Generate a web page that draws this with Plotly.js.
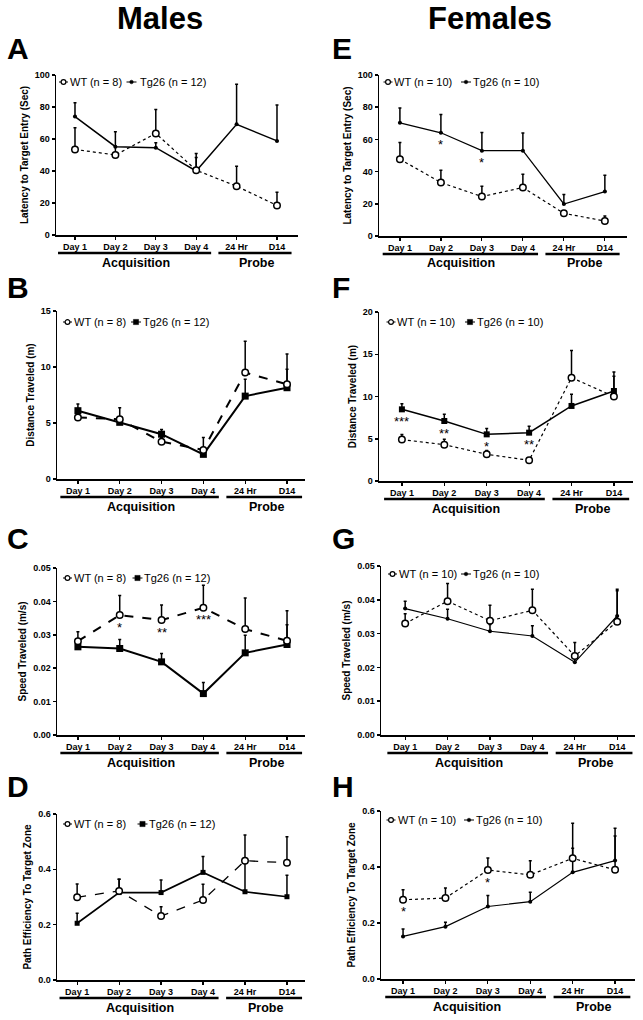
<!DOCTYPE html>
<html><head><meta charset="utf-8">
<script src="https://cdn.plot.ly/plotly-3.0.1.min.js"></script>
<style>html,body{margin:0;padding:0;background:#fff}#chart{width:643px;height:1020px}</style>
</head><body><div id="chart"></div>
<script>
// ---------- data ----------
const days = ['Day 1','Day 2','Day 3','Day 4','24 Hr','D14'];
const groupLabels = ['Acquisition','Probe'];
const colHeaders = ['Males','Females'];
const panelLetters = ['A','B','C','D','E','F','G','H'];
const yTitles = ['Latency to Target Entry (Sec)','Distance Traveled (m)','Speed Traveled (m/s)','Path Efficiency To Target Zone'];
const nMales = {wt: 8, tg: 12};
const nFemales = {wt: 10, tg: 10};

// A: males latency
const latMaleWT = [53.5, 50.0, 63.5, 40.5, 30.5, 18.5];
const latMaleWTErr = [13.5, 5.0, 15.0, 8.0, 12.5, 8.2];
const latMaleTg = [74.0, 55.2, 54.6, 40.0, 69.2, 58.8];
const latMaleTgErr = [8.7, 9.4, 3.0, 11.0, 25.0, 22.5];
// B: males distance
const distMaleWT = [5.5, 5.33, 3.33, 2.6, 9.5, 8.45];
const distMaleWTErr = [0.4, 1.04, 0.4, 1.1, 2.8, 2.7];
const distMaleTg = [6.1, 5.06, 4.0, 2.2, 7.4, 8.15];
const distMaleTgErr = [0.6, 0.4, 0.43, 0.3, 1.5, 1.65];
// C: males speed
const speedMaleWT = [0.0281, 0.0359, 0.0344, 0.0381, 0.0317, 0.0282];
const speedMaleWTErr = [0.0028, 0.0059, 0.0045, 0.0067, 0.0093, 0.0090];
const speedMaleTg = [0.0264, 0.0259, 0.0219, 0.0124, 0.0246, 0.0271];
const speedMaleTgErr = [0.0010, 0.0027, 0.0025, 0.0033, 0.0053, 0.0059];
const speedMaleStars = ['', '*', '**', '***', '', ''];
// D: males path efficiency
const pathMaleWT = [0.299, 0.322, 0.231, 0.289, 0.431, 0.424];
const pathMaleWTErr = [0.048, 0.042, 0.034, 0.057, 0.093, 0.094];
const pathMaleTg = [0.205, 0.316, 0.316, 0.389, 0.319, 0.301];
const pathMaleTgErr = [0.036, 0.048, 0.045, 0.057, 0.110, 0.078];
// E: females latency
const latFemWT = [47.7, 33.2, 24.5, 30.1, 14.1, 9.3];
const latFemWTErr = [10.4, 7.7, 6.4, 8.3, 1.5, 3.1];
const latFemTg = [70.3, 64.1, 53.0, 53.0, 19.9, 27.6];
const latFemTgErr = [9.2, 11.4, 11.3, 11.0, 5.8, 10.2];
const latFemStars = ['', '*', '*', '', '', ''];
// F: females distance
const distFemWT = [4.9, 4.3, 3.16, 2.45, 12.23, 10.0];
const distFemWTErr = [0.6, 0.63, 0.44, 0.2, 3.2, 2.4];
const distFemTg = [8.48, 7.1, 5.52, 5.72, 8.88, 10.65];
const distFemTgErr = [0.67, 0.8, 0.68, 0.75, 1.38, 2.25];
const distFemStars = ['***', '**', '*', '**', '', ''];
// G: females speed
const speedFemWT = [0.0330, 0.0396, 0.0338, 0.0369, 0.0234, 0.0335];
const speedFemWTErr = [0.0029, 0.0052, 0.0046, 0.0062, 0.0040, 0.0096];
const speedFemTg = [0.0374, 0.0344, 0.0307, 0.0293, 0.0215, 0.0352];
const speedFemTgErr = [0.0022, 0.0028, 0.0020, 0.0030, 0.0015, 0.0075];
// H: females path efficiency
const pathFemWT = [0.283, 0.289, 0.389, 0.372, 0.431, 0.390];
const pathFemWTErr = [0.036, 0.036, 0.043, 0.050, 0.125, 0.121];
const pathFemTg = [0.152, 0.187, 0.259, 0.276, 0.381, 0.423];
const pathFemTgErr = [0.027, 0.016, 0.039, 0.034, 0.086, 0.115];
const pathFemStars = ['*', '', '*', '', '', ''];

// ---------- panel config (styles / layout) ----------
const W = 643, H = 1020;
const px = v => v / W;
const py = v => 1 - v / H;
const FONT = 'Arial, "Liberation Sans", sans-serif';

const panels = [
  {wt:latMaleWT, wtE:latMaleWTErr, tg:latMaleTg, tgE:latMaleTgErr, n:nMales, row:0, yr:[0,100], dt:20, fmt:'d',
   gx:[56,298], gy:[75,235], xr:[-0.47,5.52], leg:[63.5,70,131.5,140,82], style:'thinA'},
  {wt:distMaleWT, wtE:distMaleWTErr, tg:distMaleTg, tgE:distMaleTgErr, n:nMales, row:1, yr:[0,15], dt:5, fmt:'d',
   gx:[57,305], gy:[311,479], xr:[-0.50,5.43], leg:[67.5,74,136,143,322], style:'thick'},
  {wt:speedMaleWT, wtE:speedMaleWTErr, tg:speedMaleTg, tgE:speedMaleTgErr, n:nMales, row:2, yr:[0,0.05], dt:0.01, fmt:'.2f',
   gx:[57,305], gy:[568,735], xr:[-0.50,5.43], leg:[67.5,74,137.5,144,578], style:'thick', stars:speedMaleStars, starOn:'wt'},
  {wt:pathMaleWT, wtE:pathMaleWTErr, tg:pathMaleTg, tgE:pathMaleTgErr, n:nMales, row:3, yr:[0,0.6], dt:0.2, fmt:'.1f',
   gx:[57,305], gy:[814,980], xr:[-0.48,5.43], leg:[67.5,74,142.5,149,824], style:'mid'},
  {wt:latFemWT, wtE:latFemWTErr, tg:latFemTg, tgE:latFemTgErr, n:nFemales, row:0, yr:[0,100], dt:20, fmt:'d',
   gx:[379,627], gy:[75,236], xr:[-0.51,5.54], leg:[388,394,466,473,82], style:'thin', stars:latFemStars, starOn:'tg'},
  {wt:distFemWT, wtE:distFemWTErr, tg:distFemTg, tgE:distFemTgErr, n:nFemales, row:1, yr:[0,20], dt:5, fmt:'d',
   gx:[379,633], gy:[312,481], xr:[-0.54,5.45], leg:[391,397,470,477,322], style:'thinSq', stars:distFemStars, starOn:'tg'},
  {wt:speedFemWT, wtE:speedFemWTErr, tg:speedFemTg, tgE:speedFemTgErr, n:nFemales, row:2, yr:[0,0.05], dt:0.01, fmt:'.2f',
   gx:[381,635], gy:[566,735], xr:[-0.57,5.42], leg:[392.5,399,466,473,574], style:'thin'},
  {wt:pathFemWT, wtE:pathFemWTErr, tg:pathFemTg, tgE:pathFemTgErr, n:nFemales, row:3, yr:[0,0.6], dt:0.2, fmt:'.1f',
   gx:[381,635], gy:[811,979], xr:[-0.52,5.47], leg:[391,398,469,476,820], style:'thin', stars:pathFemStars, starOn:'wt'}
];
const styles = {
  thinA:  {wtDash:'dot',  wtW:1.2, tgW:1.5, tgSym:'circle', tgSize:4},
  thick:  {wtDash:'dash', wtW:2,   tgW:2,   tgSym:'square', tgSize:7},
  mid:    {wtDash:'dash', wtW:1.3, tgW:1.7, tgSym:'square', tgSize:5},
  thin:   {wtDash:'dot',  wtW:1.2, tgW:1.2, tgSym:'circle', tgSize:4},
  thinSq: {wtDash:'dot',  wtW:1.2, tgW:1.5, tgSym:'square', tgSize:6}
};
const letterY = [47, 286, 537, 785];

const traces = [];
const shapes = [];
const annotations = [];
const layout = {
  width: W, height: H, margin: {l:0, r:0, t:0, b:0},
  paper_bgcolor: '#fff', plot_bgcolor: '#fff', showlegend: false,
  font: {family: FONT, color: '#000'},
  shapes, annotations
};

colHeaders.forEach((h, i) => {
  annotations.push({text: h, xref:'paper', yref:'paper', x: px(i === 0 ? 160 : 490), y: py(18),
    xanchor:'center', yanchor:'middle', showarrow:false, font:{size:31, weight:700, family: FONT}});
});

panels.forEach((p, i) => {
  const k = i + 1;
  const xa = 'x' + (k === 1 ? '' : k), ya = 'y' + (k === 1 ? '' : k);
  const xk = 'xaxis' + (k === 1 ? '' : k), yk = 'yaxis' + (k === 1 ? '' : k);
  const st = styles[p.style];
  const zeros = days.map(() => 0);

  traces.push({
    x: days, y: p.tg, xaxis: xa, yaxis: ya, type: 'scatter', mode: 'lines+markers', cliponaxis: false,
    line: {color:'#000', width: st.tgW},
    marker: {symbol: st.tgSym, size: st.tgSize, color: '#000'},
    error_y: {type:'data', symmetric:false, array: p.tgE, arrayminus: zeros, color:'#000', thickness:1.5, width:1.5}
  });
  traces.push({
    x: days, y: p.wt, xaxis: xa, yaxis: ya, type: 'scatter', mode: 'lines+markers', cliponaxis: false,
    line: {color:'#000', width: st.wtW, dash: st.wtDash},
    marker: {symbol: 'circle', size: 6.5, color: '#fff', line: {color:'#000', width: 1.5}},
    error_y: {type:'data', symmetric:false, array: p.wtE, arrayminus: zeros, color:'#000', thickness:1.5, width:1.5}
  });

  layout[xk] = {
    domain: [px(p.gx[0]), px(p.gx[1])], anchor: ya, type: 'category', range: p.xr,
    showline: true, linecolor: '#000', linewidth: 1.5, showgrid: false, zeroline: false,
    ticks: 'outside', ticklen: 3, tickwidth: 1.2, tickcolor: '#000',
    tickfont: {size: 9, weight: 700, family: FONT}, fixedrange: true
  };
  layout[yk] = {
    domain: [py(p.gy[1]), py(p.gy[0])], anchor: xa, range: p.yr, dtick: p.dt, tick0: 0,
    tickformat: p.fmt, showline: true, linecolor: '#000', linewidth: 1.5, showgrid: false, zeroline: false,
    ticks: 'outside', ticklen: 3, tickwidth: 1.5, tickcolor: '#000',
    tickfont: {size: 9, weight: 700, family: FONT}, fixedrange: true,
    title: {text: yTitles[p.row], font: {size: 10, weight: 700, family: FONT}, standoff: 4}
  };

  // group bars and labels under the x axis
  const lineY = py(p.gy[1] + 18), labY = py(p.gy[1] + 27.5);
  [[-0.42, 3.37, 1.5], [3.55, 5.36, 4.5]].forEach((g, gi) => {
    shapes.push({type:'line', xref: xa, yref:'paper', x0: g[0], x1: g[1], y0: lineY, y1: lineY,
      line: {color:'#000', width: 2.5}});
    annotations.push({text: groupLabels[gi], xref: xa, yref: 'paper', x: g[2], y: labY,
      xanchor:'center', yanchor:'middle', showarrow:false, font:{size:12.5, weight:700, family: FONT}});
  });

  // panel letter
  annotations.push({text: panelLetters[i], xref:'paper', yref:'paper', x: px(i < 4 ? 5 : 330), y: py(letterY[p.row] + 1),
    xanchor:'left', yanchor:'middle', showarrow:false, font:{size:30, weight:700, family: FONT}});

  // legend (custom, compact)
  const L = p.leg, ly = py(L[4]);
  shapes.push({type:'line', xref:'paper', yref:'paper', x0: px(L[0]-4.5), x1: px(L[0]+4.5), y0: ly, y1: ly, line:{color:'#000', width:1}});
  shapes.push({type:'circle', xref:'paper', yref:'paper', x0: px(L[0]-2.4), x1: px(L[0]+2.4), y0: py(L[4]-2.4), y1: py(L[4]+2.4),
    fillcolor:'#fff', line:{color:'#000', width:1.2}});
  annotations.push({text: 'WT (n = ' + p.n.wt + ')', xref:'paper', yref:'paper', x: px(L[1]-2), y: ly,
    xanchor:'left', yanchor:'middle', showarrow:false, font:{size:11, family: FONT}});
  const tgHalf = st.tgSym === 'square' ? 2.6 : 1.8;
  shapes.push({type:'line', xref:'paper', yref:'paper', x0: px(L[2]-5), x1: px(L[2]+5), y0: ly, y1: ly, line:{color:'#000', width:1}});
  shapes.push({type: st.tgSym === 'square' ? 'rect' : 'circle', xref:'paper', yref:'paper',
    x0: px(L[2]-tgHalf), x1: px(L[2]+tgHalf), y0: py(L[4]-tgHalf), y1: py(L[4]+tgHalf),
    fillcolor:'#000', line:{color:'#000', width:0.5}});
  annotations.push({text: 'Tg26 (n = ' + p.n.tg + ')', xref:'paper', yref:'paper', x: px(L[3]-2), y: ly,
    xanchor:'left', yanchor:'middle', showarrow:false, font:{size:11, family: FONT}});

  // significance stars
  if (p.stars) {
    const base = p.starOn === 'wt' ? p.wt : p.tg;
    p.stars.forEach((s, j) => {
      if (!s) return;
      annotations.push({text: s, xref: xa, yref: ya, x: days[j], y: base[j], yshift: -12,
        xanchor:'center', yanchor:'middle', showarrow:false, font:{size:13, family: FONT}});
    });
  }
});

Plotly.newPlot('chart', traces, layout, {displayModeBar: false, staticPlot: true});
</script>
</body></html>
